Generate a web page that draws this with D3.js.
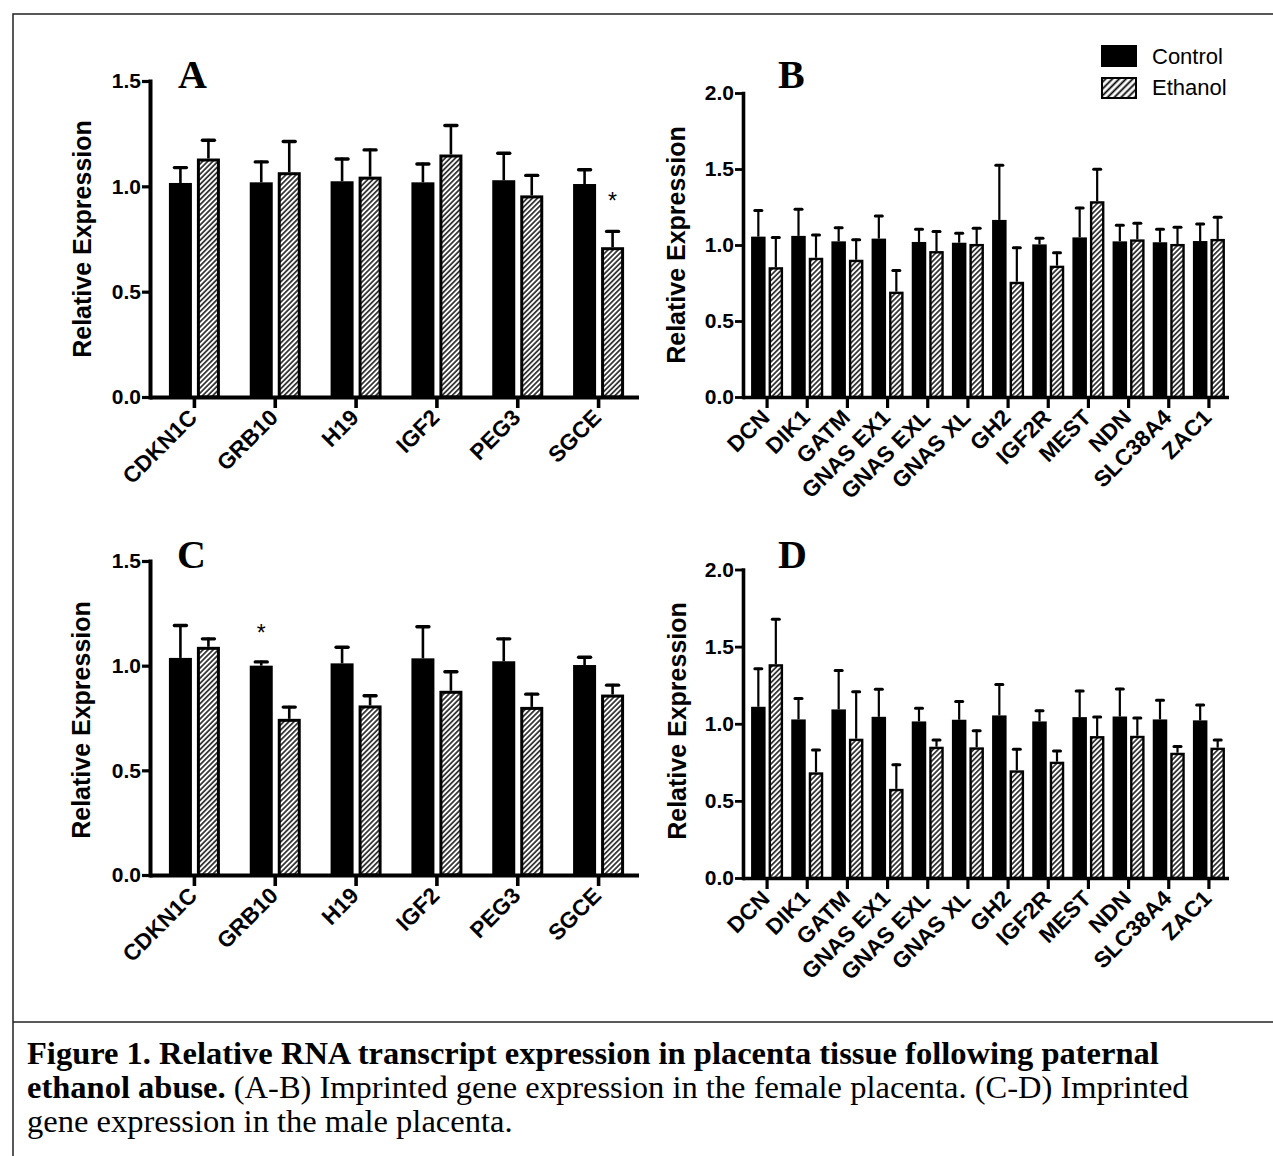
<!DOCTYPE html>
<html><head><meta charset="utf-8">
<script src="https://cdn.jsdelivr.net/npm/d3@7"></script>
<style>body{margin:0;background:#fff} svg{display:block}</style>
</head><body>
<svg id="fig" width="1273" height="1156"></svg>
<script>
// ---------- data ----------
const genesAC = ["CDKN1C","GRB10","H19","IGF2","PEG3","SGCE"];
const genesBD = ["DCN","DIK1","GATM","GNAS EX1","GNAS EXL","GNAS XL","GH2","IGF2R","MEST","NDN","SLC38A4","ZAC1"];
const seriesNames = ["Control","Ethanol"];
const yTicksAC = [0, 0.5, 1.0, 1.5];
const yTicksBD = [0, 0.5, 1.0, 1.5, 2.0];

const A_control    = [1.016,1.019,1.024,1.019,1.029,1.011];
const A_controlErr = [0.073,0.097,0.106,0.087,0.128,0.068];
const A_ethanol    = [1.132,1.067,1.046,1.151,0.957,0.711];
const A_ethanolErr = [0.087,0.146,0.127,0.138,0.095,0.075];

const B_control    = [1.055,1.060,1.024,1.042,1.020,1.015,1.165,1.004,1.050,1.024,1.018,1.026];
const B_controlErr = [0.172,0.176,0.089,0.148,0.084,0.062,0.360,0.040,0.194,0.106,0.085,0.112];
const B_ethanol    = [0.854,0.916,0.903,0.693,0.960,1.007,0.758,0.864,1.288,1.037,1.007,1.040];
const B_ethanolErr = [0.195,0.150,0.132,0.139,0.128,0.103,0.224,0.085,0.211,0.106,0.109,0.142];

const C_control    = [1.037,1.000,1.011,1.035,1.021,1.003];
const C_controlErr = [0.155,0.018,0.077,0.151,0.107,0.037];
const C_ethanol    = [1.090,0.746,0.810,0.880,0.803,0.862];
const C_ethanolErr = [0.038,0.056,0.046,0.091,0.061,0.045];

const D_control    = [1.110,1.028,1.093,1.045,1.015,1.026,1.054,1.015,1.043,1.047,1.028,1.022];
const D_controlErr = [0.246,0.136,0.252,0.179,0.086,0.118,0.200,0.069,0.170,0.179,0.125,0.099];
const D_ethanol    = [1.386,0.685,0.903,0.578,0.851,0.847,0.698,0.754,0.920,0.922,0.812,0.845];
const D_ethanolErr = [0.291,0.145,0.304,0.157,0.043,0.108,0.136,0.069,0.123,0.115,0.041,0.049];

const starsA = [{gene:"SGCE", series:"Ethanol", at:0.95}];
const starsC = [{gene:"GRB10", series:"Control", at:1.176}];

const captionLine1 = "Figure 1. Relative RNA transcript expression in placenta tissue following paternal";
const captionLine2Bold = "ethanol abuse.";
const captionLine2 = " (A-B) Imprinted gene expression in the female placenta. (C-D) Imprinted";
const captionLine3 = "gene expression in the male placenta.";

// ---------- drawing ----------
const svg = d3.select("#fig");
const SANS = "'Liberation Sans', Arial, Helvetica, sans-serif";
const SERIF = "'Liberation Serif', 'Times New Roman', Times, serif";

const defs = svg.append("defs");
function hatch(id, size, sw) {
  const p = defs.append("pattern").attr("id", id).attr("patternUnits","userSpaceOnUse")
    .attr("width", size).attr("height", size).attr("patternTransform","rotate(45)");
  p.append("rect").attr("width", size).attr("height", size).attr("fill","#fff");
  p.append("line").attr("x1",size/2).attr("y1",0).attr("x2",size/2).attr("y2",size)
    .attr("stroke","#000").attr("stroke-width", sw);
}
hatch("hatchBar", 3.6, 1.4);
hatch("hatchLeg", 4.8, 1.8);

// frame
svg.append("path").attr("d","M1274,14H13V1160").attr("fill","none").attr("stroke","#222").attr("stroke-width",1.5);
svg.append("line").attr("x1",13).attr("x2",1274).attr("y1",1022).attr("y2",1022).attr("stroke","#222").attr("stroke-width",1.5);

const panels = [
  {title:"A", genes:genesAC, ctrl:A_control, ctrlErr:A_controlErr, eth:A_ethanol, ethErr:A_ethanolErr,
   ymax:1.5, ticks:yTicksAC, axisX:150, xr:[154,639], y0:397, ytop:81, barW:23, gap:5, sw:3, capW:12, ew:2.6, aw:4,
   titlePos:[178,88], ylab:[91,239], stars:starsA},
  {title:"B", genes:genesBD, ctrl:B_control, ctrlErr:B_controlErr, eth:B_ethanol, ethErr:B_ethanolErr,
   ymax:2.0, ticks:yTicksBD, axisX:743, xr:[747,1229], y0:397, ytop:93, barW:14.5, gap:3, sw:2.4, capW:7, ew:2.2, aw:3.6,
   titlePos:[778,88], ylab:[685,245], stars:[]},
  {title:"C", genes:genesAC, ctrl:C_control, ctrlErr:C_controlErr, eth:C_ethanol, ethErr:C_ethanolErr,
   ymax:1.5, ticks:yTicksAC, axisX:150, xr:[154,639], y0:875, ytop:561, barW:23, gap:5, sw:3, capW:12, ew:2.6, aw:4,
   titlePos:[177,568], ylab:[90,720], stars:starsC},
  {title:"D", genes:genesBD, ctrl:D_control, ctrlErr:D_controlErr, eth:D_ethanol, ethErr:D_ethanolErr,
   ymax:2.0, ticks:yTicksBD, axisX:743, xr:[747,1229], y0:878, ytop:569.5, barW:14.5, gap:3, sw:2.4, capW:7, ew:2.2, aw:3.6,
   titlePos:[778,568], ylab:[686,721], stars:[]}
];

panels.forEach(p => {
  const g = svg.append("g");
  const x = d3.scaleBand().domain(p.genes).range(p.xr).paddingInner(0).paddingOuter(0);
  const y = d3.scaleLinear().domain([0, p.ymax]).range([p.y0, p.ytop]);
  const cx = gname => x(gname) + x.bandwidth()/2;
  const barLeft = (gname, si) => si === 0 ? cx(gname) - p.gap/2 - p.barW : cx(gname) + p.gap/2;

  const rows = [];
  p.genes.forEach((gn, i) => {
    rows.push({gene:gn, si:0, v:p.ctrl[i], e:p.ctrlErr[i]});
    rows.push({gene:gn, si:1, v:p.eth[i], e:p.ethErr[i]});
  });

  const eg = g.append("g");
  rows.forEach(r => {
    const bx = barLeft(r.gene, r.si) + p.barW/2;
    eg.append("line").attr("x1",bx).attr("x2",bx).attr("y1",y(r.v)).attr("y2",y(r.v+r.e) - p.ew/2)
      .attr("stroke","#000").attr("stroke-width",p.ew);
    eg.append("line").attr("x1",bx - p.capW/2).attr("x2",bx + p.capW/2).attr("y1",y(r.v+r.e)).attr("y2",y(r.v+r.e))
      .attr("stroke","#000").attr("stroke-width",p.ew+0.8).attr("stroke-linecap","round");
  });

  g.append("g").selectAll("rect").data(rows).join("rect")
    .attr("x", r => barLeft(r.gene, r.si) + p.sw/2)
    .attr("width", p.barW - p.sw)
    .attr("y", r => y(r.v) + p.sw/2)
    .attr("height", r => y(0) - y(r.v) - p.sw/2)
    .attr("fill", r => r.si === 0 ? "#000" : "url(#hatchBar)")
    .attr("stroke","#000").attr("stroke-width", p.sw);

  const ya = g.append("g").attr("transform",`translate(${p.axisX},0)`)
    .call(d3.axisLeft(y).tickValues(p.ticks).tickFormat(d3.format(".1f")).tickSize(8).tickSizeOuter(0).tickPadding(1));
  ya.select(".domain").attr("stroke-width",p.aw).attr("stroke-linecap","square");
  ya.selectAll(".tick line").attr("stroke-width",p.aw - 0.8);
  ya.selectAll("text").attr("font-family",SANS).attr("font-weight","bold").attr("font-size",21).attr("fill","#000");

  const xa = g.append("g").attr("transform",`translate(0,${p.y0})`)
    .call(d3.axisBottom(x).tickSize(11).tickSizeOuter(0));
  xa.select(".domain").attr("d",`M${p.axisX},0.5H${p.xr[1]}`).attr("stroke-width",p.aw);
  xa.selectAll(".tick line").attr("stroke-width",p.aw - 0.4);
  xa.selectAll("text")
    .attr("font-family",SANS).attr("font-weight","bold").attr("font-size",22.5).attr("fill","#000")
    .attr("x",0).attr("y",0).attr("dy",null)
    .attr("text-anchor","end")
    .attr("transform","translate(4,22) rotate(-45)");

  p.stars.forEach(s => {
    const si = seriesNames.indexOf(s.series);
    g.append("text").attr("x", barLeft(s.gene, si) + p.barW/2).attr("y", y(s.at) + 12)
      .attr("text-anchor","middle").attr("font-family",SANS).attr("font-size",23).text("*");
  });

  g.append("text").attr("x",p.titlePos[0]).attr("y",p.titlePos[1])
    .attr("font-family",SERIF).attr("font-weight","bold").attr("font-size",40).text(p.title);

  g.append("text").attr("transform",`translate(${p.ylab[0]},${p.ylab[1]}) rotate(-90)`)
    .attr("text-anchor","middle").attr("font-family",SANS).attr("font-weight","bold").attr("font-size",25)
    .text("Relative Expression");
});

const leg = svg.append("g");
seriesNames.forEach((s, i) => {
  leg.append("rect").attr("x",1102).attr("y",46 + i*32).attr("width",34).attr("height",20)
    .attr("fill", i === 0 ? "#000" : "url(#hatchLeg)").attr("stroke","#000").attr("stroke-width",2);
  leg.append("text").attr("x",1152).attr("y",64 + i*31).attr("font-family",SANS).attr("font-size",22).text(s);
});

const cap = svg.append("g").attr("font-family",SERIF).attr("font-size",32.5).attr("fill","#000");
cap.append("text").attr("x",27).attr("y",1064).attr("font-weight","bold").text(captionLine1);
const t2 = cap.append("text").attr("x",27).attr("y",1098);
t2.append("tspan").attr("font-weight","bold").text(captionLine2Bold);
t2.append("tspan").text(captionLine2);
cap.append("text").attr("x",27).attr("y",1132).text(captionLine3);
</script>
</body></html>
